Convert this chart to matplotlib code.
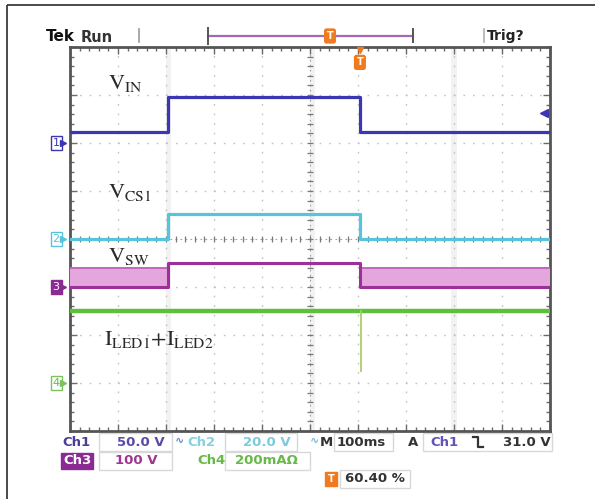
import matplotlib
matplotlib.use("Agg")
import matplotlib.pyplot as plt
import numpy as np
from matplotlib.patches import Rectangle
from matplotlib.transforms import blended_transform_factory

plt.rcParams["mathtext.fontset"] = "stix"

W, H = 595, 499

# ---- acquisition settings ----
time_per_div_ms = 100.0
n_hdiv, n_vdiv = 10, 8
trigger_pos_pct = 60.40
t_start = -trigger_pos_pct / 100.0 * n_hdiv * time_per_div_ms
t_end = t_start + n_hdiv * time_per_div_ms

channel_names = ["Ch1", "Ch2", "Ch3", "Ch4"]
channel_scale = [50.0, 20.0, 100.0, 0.2]     # V/div (Ch4 in A/div)
channel_offset = [2.0, 0.0, -1.0, -3.0]      # ground marker position, div
channel_colors = ["#3b37b2", "#58c4dc", "#9e2f98", "#5dbf3c"]
trigger_level_v = 31.0

# ---- measured signals ----
edge_times_ms = [-400.0, 0.0]      # input step up / step down
vin_levels = [11.0, 48.0]          # V low, V high
vcs1_levels = [0.0, 10.4]          # V
vsw_on_v = 50.0                    # V during high input
vsw_band_v = [0.0, 39.0]           # switching envelope, V
iled_a = 0.30                      # A
iled_dip_a = 0.05                  # A, transient at step down

# ---- readout texts ----
scale_labels = ["50.0 V", "20.0 V", "100 V", "200mA\u03a9"]
timebase_label = "100ms"
trigger_label = "31.0 V"
position_label = "60.40 %"


def to_div(ch, v):
    return channel_offset[ch] + np.asarray(v, dtype=float) / channel_scale[ch]


def step_wave(lo, hi):
    e0, e1 = edge_times_ms
    t = [t_start, e0, e0, e1, e1, t_end]
    y = [lo, lo, hi, hi, lo, lo]
    return np.array(t), np.array(y)


fig = plt.figure(figsize=(W / 100, H / 100), dpi=100)
fig.patch.set_facecolor("white")

# overlay in pixel coordinates for the instrument decorations
ov = fig.add_axes([0, 0, 1, 1], zorder=0)
ov.set_xlim(0, W)
ov.set_ylim(H, 0)
ov.axis("off")

# outer frame
ov.plot([7, 7], [5, H + 5], color="#3c3c3c", lw=1.3, solid_capstyle="butt")
ov.plot([7, W + 5], [5, 5], color="#3c3c3c", lw=1.3, solid_capstyle="butt")

# ---- scope screen ----
ax = fig.add_axes([70 / W, (H - 431) / H, 480 / W, 384 / H], zorder=2)
ax.set_xlim(t_start, t_end)
ax.set_ylim(-n_vdiv / 2, n_vdiv / 2)
ax.set_facecolor("white")

xmaj = t_start + np.arange(n_hdiv + 1) * time_per_div_ms
xmin = t_start + np.arange(n_hdiv * 5 + 1) * time_per_div_ms / 5
ymaj = np.arange(-n_vdiv / 2, n_vdiv / 2 + 1)
ymin = np.arange(-n_vdiv / 2, n_vdiv / 2 + 0.01, 0.2)
ax.set_xticks(xmaj)
ax.set_xticks(xmin, minor=True)
ax.set_yticks(ymaj)
ax.set_yticks(ymin, minor=True)
ax.set_xticklabels([])
ax.set_yticklabels([])
ax.tick_params(which="both", direction="in", top=True, right=True,
               color="#6a6a6a", width=1.0)
ax.tick_params(which="major", length=5)
ax.tick_params(which="minor", length=3)
for s in ax.spines.values():
    s.set_color("#555555")
    s.set_linewidth(2.0)

# faint screen banding
for xc in [t_start + 2.05 * time_per_div_ms, t_start + 5.05 * time_per_div_ms,
           t_start + 8.0 * time_per_div_ms]:
    ax.axvspan(xc - 6, xc + 6, color="#f2f2f2", zorder=0, lw=0)

# graticule
for xv in xmaj[1:-1]:
    ax.axvline(xv, color="#c2c2c2", lw=1.0, ls=(0, (1.2, 5.7)), zorder=1)
for yv in ymaj[1:-1]:
    ax.axhline(yv, color="#c2c2c2", lw=1.0, ls=(0, (1.2, 5.7)), zorder=1)
xc_mid = t_start + n_hdiv / 2 * time_per_div_ms
ax.axhline(0, color="#a0a0a0", lw=0.8, ls=(0, (1.5, 3)), zorder=1)
ax.axvline(xc_mid, color="#a0a0a0", lw=0.8, ls=(0, (1.5, 3)), zorder=1)
ax.plot(xmin, np.zeros_like(xmin), ls="none", marker="|", ms=4, mew=0.9,
        color="#7a7a7a", zorder=1)
ax.plot(np.full_like(ymin, xc_mid), ymin, ls="none", marker="_", ms=4, mew=0.9,
        color="#7a7a7a", zorder=1)

# Ch1 : input voltage
t1, v1 = step_wave(*vin_levels)
ax.plot(t1, to_div(0, v1), color=channel_colors[0], lw=2.3, zorder=5)

# Ch2 : current-sense voltage
t2, v2 = step_wave(*vcs1_levels)
ax.plot(t2, to_div(1, v2), color=channel_colors[1], lw=2.3, zorder=4)

# Ch3 : switch node, switching envelope while input is low
e0, e1 = edge_times_ms
band_lo, band_hi = to_div(2, vsw_band_v)
for ta, tb in [(t_start, e0), (e1, t_end)]:
    ax.fill_between([ta, tb], band_lo, band_hi, color="#e3a6dd", lw=0, zorder=3)
    ax.plot([ta, tb], [band_hi, band_hi], color="#c466bc", lw=1.4, zorder=4)
t3 = [t_start, e0, e0, e1, e1, t_end]
v3 = [vsw_band_v[0], vsw_band_v[0], vsw_on_v, vsw_on_v, vsw_band_v[0], vsw_band_v[0]]
ax.plot(t3, to_div(2, v3), color=channel_colors[2], lw=2.2, zorder=4)

# Ch4 : LED current
ax.plot([t_start, t_end], to_div(3, [iled_a, iled_a]), color=channel_colors[3],
        lw=3.2, zorder=4)
ax.plot([e1 + 1.5, e1 + 1.5], to_div(3, [iled_a, iled_dip_a]), color="#a9cf6a",
        lw=1.3, zorder=4)

# trace labels
lab = dict(fontsize=16, color="#2a2a2a", va="center", ha="left", zorder=6)
tx = lambda px: t_start + (px - 70) / 48 * time_per_div_ms
ty = lambda py: (239 - py) / 48
ax.text(tx(108), ty(83), r"$\mathrm{V_{IN}}$", **lab)
ax.text(tx(108), ty(192), r"$\mathrm{V_{CS1}}$", **lab)
ax.text(tx(108), ty(256), r"$\mathrm{V_{SW}}$", **lab)
ax.text(tx(104), ty(339), r"$\mathrm{I_{LED1}{+}I_{LED2}}$", **lab)

# ground markers
bt = blended_transform_factory(ax.transAxes, ax.transData)
marker_style = [
    dict(fc="white", ec=channel_colors[0], tc=channel_colors[0]),
    dict(fc="white", ec=channel_colors[1], tc=channel_colors[1]),
    dict(fc="#8c2a94", ec="#8c2a94", tc="white"),
    dict(fc="white", ec="#7cc060", tc="#6cb450"),
]
for i, st in enumerate(marker_style):
    y = channel_offset[i]
    ax.text(-0.029, y, str(i + 1), transform=bt, ha="center", va="center",
            fontsize=8, color=st["tc"], clip_on=False, zorder=6,
            bbox=dict(boxstyle="square,pad=0.18", fc=st["fc"], ec=st["ec"], lw=1.0))
    ax.plot([-0.014], [y], marker=">", ms=4, color=st["ec"], transform=bt,
            clip_on=False, zorder=6)

# trigger level arrow
ax.plot([0.987], [to_div(0, trigger_level_v)], marker="<", ms=6,
        color=channel_colors[0], transform=bt, clip_on=False, zorder=6)

# trigger position marker under the top edge
bx = blended_transform_factory(ax.transData, ax.transAxes)
ax.plot([0], [0.992], marker="v", ms=5, color="#f07a1e", transform=bx,
        clip_on=False, zorder=7)
ax.text(0, 0.96, "T", transform=bx, ha="center", va="center", fontsize=7,
        fontweight="bold", color="white", zorder=7,
        bbox=dict(boxstyle="round,pad=0.2", fc="#f07a1e", ec="#f07a1e"))

# ---- header ----
ov.text(46, 36, "Tek", fontsize=11, fontweight="bold", color="#111111",
        va="center", family="DejaVu Sans")
ov.text(81, 37, "Run", fontsize=10.5, fontweight="bold", color="#333333",
        va="center", family="DejaVu Sans")
ov.plot([139, 139], [29, 42], color="#9a9a9a", lw=1.2)
ov.plot([208, 413], [36, 36], color="#a468b4", lw=1.6)
ov.plot([208, 208], [28, 44], color="#555555", lw=1.4)
ov.plot([413, 413], [29, 42], color="#555555", lw=1.4)
ov.text(330, 36, "T", ha="center", va="center", fontsize=7, fontweight="bold",
        color="white", bbox=dict(boxstyle="round,pad=0.2", fc="#f07a1e", ec="#f07a1e"))
ov.plot([484, 484], [29, 42], color="#b0b0b0", lw=1.2)
ov.text(487, 36, "Trig?", fontsize=10, fontweight="bold", color="#222222",
        va="center", family="DejaVu Sans")

# ---- readout ----
def box(x0, y0, x1, y1, ec="#d8d8d8"):
    ov.add_patch(Rectangle((x0, y0), x1 - x0, y1 - y0, fill=False, ec=ec, lw=1.0))


rt = dict(fontsize=9.5, fontweight="bold", va="center", family="DejaVu Sans")
r1, r2, r3 = 442, 461, 479
box(99, 433, 172, 451)
box(225, 433, 297, 451)
box(334, 433, 393, 451)
box(423, 433, 552, 451)
box(99, 452, 172, 470)
box(225, 452, 310, 470)
box(340, 470, 410, 488)

ov.text(62, r1, channel_names[0], color="#4b3d9a", **rt)
ov.text(117, r1, scale_labels[0], color="#5a4aa8", **rt)
ov.text(175, r1 - 1, "\u223f", color="#6a8ac8", fontsize=8, va="center",
        fontweight="bold", family="DejaVu Sans")
ov.text(187, r1, channel_names[1], color="#86d0e2", **rt)
ov.text(243, r1, scale_labels[1], color="#7ccadd", **rt)
ov.text(310, r1 - 1, "\u223f", color="#7ab8d8", fontsize=8, va="center",
        fontweight="bold", family="DejaVu Sans")
ov.text(320, r1, "M", color="#333333", **rt)
ov.text(337, r1, timebase_label, color="#333333", **rt)
ov.text(408, r1, "A", color="#333333", **rt)
ov.text(430, r1, channel_names[0], color="#6352b8", **rt)
ov.plot([473, 478, 478, 483], [437, 437, 447, 447], color="#333333", lw=1.6)
ov.text(551, r1, trigger_label, color="#333333", ha="right", **rt)

ov.text(63, r2, channel_names[2], color="white", **rt,
        bbox=dict(boxstyle="square,pad=0.12", fc="#8c2a94", ec="#8c2a94"))
ov.text(115, r2, scale_labels[2], color="#a0358f", **rt)
ov.text(197, r2, channel_names[3], color="#68b848", **rt)
ov.text(235, r2, scale_labels[3], color="#68b848", **rt)

ov.text(331, r3, "T", ha="center", va="center", fontsize=7, fontweight="bold",
        color="white", bbox=dict(boxstyle="square,pad=0.25", fc="#f07a1e", ec="#f07a1e"))
ov.text(345, r3, position_label, color="#333333", **rt)

fig.savefig("out.png", dpi=100, facecolor="white")
